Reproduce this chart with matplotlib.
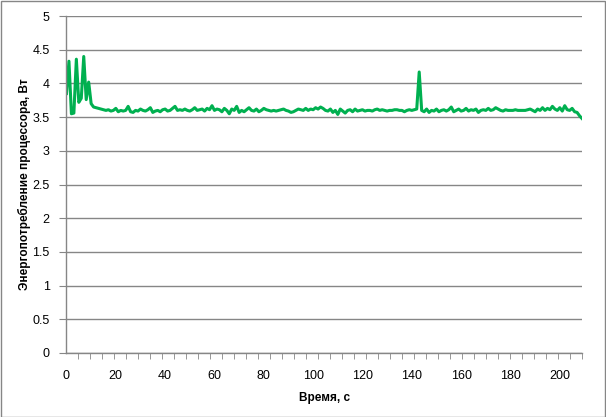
import numpy as np
import matplotlib
matplotlib.use('Agg')
import matplotlib.pyplot as plt
from matplotlib.patches import Rectangle

# energy consumption of the CPU, W, one reading per second
power = [
    3.85, 4.33, 3.55, 3.56, 4.36, 3.72, 3.78, 4.40, 3.76, 4.02, 3.70, 3.65, 3.64, 3.63,
    3.62, 3.61, 3.60, 3.61, 3.59, 3.60, 3.63, 3.58, 3.60, 3.59,
    3.60, 3.66, 3.58, 3.57, 3.60, 3.59, 3.62, 3.60, 3.59, 3.61,
    3.64, 3.57, 3.59, 3.60, 3.58, 3.61, 3.62, 3.59, 3.60, 3.63,
    3.66, 3.60, 3.61, 3.60, 3.62, 3.60, 3.59, 3.61, 3.64, 3.60,
    3.61, 3.62, 3.59, 3.63, 3.61, 3.67, 3.60, 3.62, 3.61, 3.58,
    3.63, 3.60, 3.55, 3.62, 3.60, 3.66, 3.57, 3.60, 3.58, 3.61,
    3.64, 3.60, 3.59, 3.62, 3.58, 3.60, 3.63, 3.61, 3.60, 3.59,
    3.60, 3.59, 3.60, 3.61, 3.62, 3.60, 3.59, 3.57, 3.58, 3.60,
    3.62, 3.61, 3.60, 3.63, 3.60, 3.62, 3.61, 3.64, 3.62, 3.65,
    3.63, 3.60, 3.59, 3.62, 3.57, 3.60, 3.54, 3.62, 3.59, 3.56,
    3.60, 3.61, 3.58, 3.62, 3.59, 3.60, 3.61, 3.59, 3.60, 3.60,
    3.59, 3.61, 3.62, 3.60, 3.61, 3.60, 3.59, 3.60, 3.60, 3.61,
    3.61, 3.60, 3.60, 3.58, 3.60, 3.61, 3.60, 3.61, 3.62, 4.17,
    3.60, 3.58, 3.62, 3.57, 3.60, 3.59, 3.62, 3.58, 3.60, 3.61,
    3.59, 3.61, 3.65, 3.58, 3.60, 3.62, 3.59, 3.60, 3.63, 3.59,
    3.61, 3.60, 3.62, 3.57, 3.60, 3.61, 3.60, 3.63, 3.60, 3.61,
    3.64, 3.62, 3.60, 3.59, 3.61, 3.60, 3.60, 3.60, 3.61, 3.60,
    3.60, 3.60, 3.60, 3.61, 3.62, 3.60, 3.58, 3.62, 3.60, 3.64,
    3.60, 3.63, 3.61, 3.66, 3.62, 3.60, 3.64, 3.59, 3.67, 3.61,
    3.60, 3.63, 3.58, 3.57, 3.52, 3.48,
]
time_s = np.arange(len(power))

x_ticks = list(range(0, 201, 20))
y_ticks = [0, 0.5, 1, 1.5, 2, 2.5, 3, 3.5, 4, 4.5, 5]
y_labels = ['0', '0.5', '1', '1.5', '2', '2.5', '3', '3.5', '4', '4.5', '5']

plt.rcParams['font.family'] = ['Liberation Sans', 'DejaVu Sans']
grid_col = '#868686'

fig = plt.figure(figsize=(6.06, 4.17), dpi=100)
ax = fig.add_axes([0.1097, 0.1535, 0.8507, 0.808])

ax.plot(time_s, power, color='#00B050', linewidth=2.2, solid_joinstyle='round')

ax.set_xlim(0, 209)
ax.set_ylim(0, 5)
ax.set_xticks(x_ticks)
ax.set_xticks(np.arange(0, 210, 4.86), minor=True)
ax.set_yticks(y_ticks)
ax.set_yticklabels(y_labels)
ax.yaxis.grid(True, color=grid_col, linewidth=1)
ax.set_axisbelow(True)

for s in ['top', 'right']:
    ax.spines[s].set_visible(False)
for s in ['left', 'bottom']:
    ax.spines[s].set_color(grid_col)
    ax.spines[s].set_linewidth(1)

ax.tick_params(axis='y', which='major', length=5, color=grid_col, labelsize=9, pad=7)
ax.tick_params(axis='x', which='major', length=0, labelsize=9, pad=12)
ax.tick_params(axis='x', which='minor', length=4, color=grid_col)

ax.set_xlabel('Время, с', fontsize=8.5, fontweight='bold')
ax.set_ylabel('Энергопотребление процессора, Вт', fontsize=8.5, fontweight='bold')
ax.xaxis.set_label_coords(0.5, -0.116)
ax.yaxis.set_label_coords(-0.068, 0.5)

fig.patches.append(Rectangle((0.001, 0.001), 0.997, 0.997, transform=fig.transFigure,
                             fill=False, edgecolor=grid_col, linewidth=1))

fig.savefig('out.png', dpi=100)
